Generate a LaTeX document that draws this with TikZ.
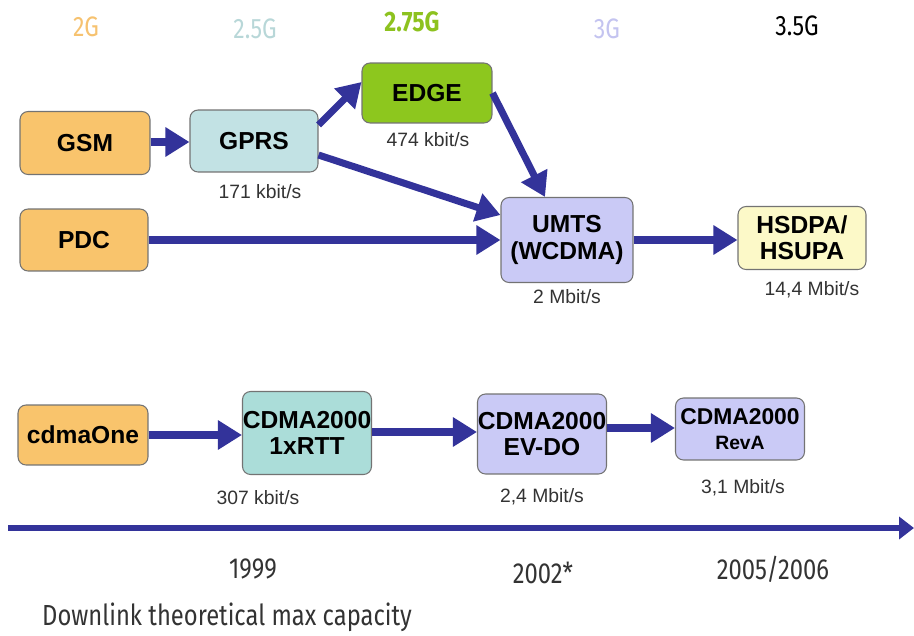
\documentclass[tikz,border=0pt]{standalone}
\usepackage{fontspec}
\setmainfont{Liberation Sans}
\newfontfamily\condfont[FakeStretch=0.82]{Fira Sans}
\usetikzlibrary{arrows.meta,calc}
\definecolor{arrowblue}{HTML}{33339A}
\definecolor{orangebox}{HTML}{F9C46C}
\definecolor{gprsbox}{HTML}{C2E2E4}
\definecolor{edgebox}{HTML}{8DC71E}
\definecolor{umtsbox}{HTML}{CACAF6}
\definecolor{hsbox}{HTML}{FCF9C8}
\definecolor{rttbox}{HTML}{ABDDD9}
\definecolor{txtgray}{HTML}{333333}
\definecolor{c2g}{HTML}{F6C270}
\definecolor{c25g}{HTML}{B8D7D8}
\definecolor{c275g}{HTML}{8DC21F}
\definecolor{c3g}{HTML}{C4C4F0}
\begin{document}
\begin{tikzpicture}[x=0.02cm,y=-0.02cm,
  techbox/.style={draw=black!55, line width=0.6pt, rounded corners=0.16cm, font=\fontsize{14}{15}\selectfont\bfseries, align=center, inner sep=0pt, minimum width=2.6cm},
  rate/.style={font=\fontsize{11}{12}\selectfont, text=txtgray},
  gen/.style={font=\condfont\fontsize{16}{18}\selectfont},
  yr/.style={font=\condfont\fontsize{16.5}{18}\selectfont, text=txtgray},
  flow/.style={draw=arrowblue, line width=4pt, -{Triangle[length=0.48cm,width=0.56cm]}}]
\useasboundingbox (0,0) rectangle (914,636);
% generation headings
\node[gen, text=c2g] (h2g) at (86,27) {2G};
\node[gen, text=c25g] (h25g) at (255,29) {2.5G};
\node[gen, text=c275g, font=\condfont\fontsize{16}{18}\selectfont\bfseries] (h275g) at (412,22) {2.75G};
\node[gen, text=c3g] (h3g) at (607,29) {3G};
\node[gen, text=black] (h35g) at (797,26) {3.5G};
% boxes
\node[techbox, fill=orangebox, minimum height=1.26cm] (gsm) at (85,143) {GSM};
\node[techbox, fill=gprsbox, minimum height=1.24cm, minimum width=2.56cm] (gprs) at (254,141) {GPRS};
\node[techbox, fill=edgebox, minimum height=1.2cm] (edge) at (427,93) {EDGE};
\node[techbox, fill=orangebox, minimum height=1.24cm, minimum width=2.56cm] (pdc) at (84,240) {PDC};
\node[techbox, fill=umtsbox, minimum height=1.7cm, minimum width=2.64cm] (umts) at (567,240) {UMTS\\(WCDMA)};
\node[techbox, fill=hsbox, minimum height=1.26cm, minimum width=2.56cm] (hs) at (802,238) {HSDPA/\\HSUPA};
\node[techbox, fill=orangebox, minimum height=1.2cm] (cdmaone) at (83,435) {cdmaOne};
\node[techbox, fill=rttbox, minimum height=1.66cm, minimum width=2.58cm] (rtt) at (307,433) {CDMA2000\\1xRTT};
\node[techbox, fill=umtsbox, minimum height=1.6cm, minimum width=2.58cm] (evdo) at (542,434) {CDMA2000\\EV-DO};
\node[techbox, fill=umtsbox, minimum height=1.24cm, minimum width=2.58cm, font=\fontsize{13}{14}\selectfont\bfseries] (reva) at (740,429) {CDMA2000\\{\fontsize{11}{12}\selectfont RevA}};
% rates
\node[rate] (r171) at (260,192) {171 kbit/s};
\node[rate] (r474) at (428,140) {474 kbit/s};
\node[rate] (r2) at (567,297) {2 Mbit/s};
\node[rate] (r144) at (812,290) {14,4 Mbit/s};
\node[rate] (r307) at (258,498) {307 kbit/s};
\node[rate] (r24) at (542,497) {2,4 Mbit/s};
\node[rate] (r31) at (743,488) {3,1 Mbit/s};
% arrows
\draw[flow] ($(gsm.east)+(0,-1)$) -- ($(gsm.east -| gprs.west)+(0,-1)$);
\draw[flow] ($(gprs.east)+(0,-16)$) -- ($(edge.west)+(0,-11)$);
\draw[flow] ($(gprs.east)+(0,14)$) -- ($(umts.west)+(0,-25)$);
\draw[flow] (edge.east) -- ($(umts.north)+(-22,0)$);
\draw[flow] (pdc.east) -- (umts.west);
\draw[flow] (umts.east) -- (umts.east -| hs.west);
\draw[flow] (cdmaone.east) -- (cdmaone.east -| rtt.west);
\draw[flow] ($(rtt.east)+(0,-1)$) -- ($(rtt.east -| evdo.west)+(0,-1)$);
\draw[flow] ($(evdo.east)+(0,-6)$) -- ($(evdo.east -| reva.west)+(0,-6)$);
% timeline
\coordinate (tl0) at (8,528);
\coordinate (tl1) at (914,528);
\draw[draw=arrowblue, line width=3.3pt, -{Triangle[length=0.3cm,width=0.44cm]}] (tl0) -- (tl1);
\node[yr] (y1999) at (253,569) {1999};
\node[yr] (y2002) at (543,573) {2002*};
\node[yr] (y2005) at (773,569) {2005/2006};
\node[yr, anchor=west] (dl) at (36,617) {Downlink theoretical max capacity};
\end{tikzpicture}
\end{document}
